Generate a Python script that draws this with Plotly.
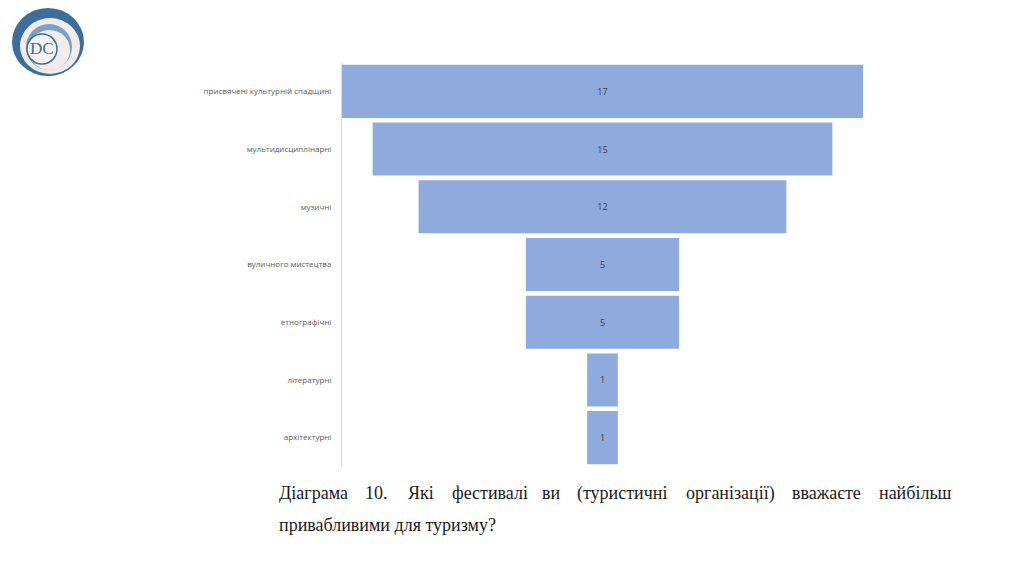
import plotly.graph_objects as go

categories = ["присвячені культурній спадщині", "мультидисциплінарні", "музичні",
              "вуличного мистецтва", "етнографічні", "літературні", "архітектурні"]
values = [17, 15, 12, 5, 5, 1, 1]

caption_line1 = ["Діаграма", "10.", "Які", "фестивалі", "ви", "(туристичні",
                 "організації)", "вважаєте", "найбільш"]
caption_line1_x = [277, 363, 406, 450, 540, 575, 684, 790, 877]
caption_line2 = "привабливими для туризму?"

W, H = 1024, 576
SERIF = "Liberation Serif"

fig = go.Figure(go.Funnel(
    y=categories,
    x=values,
    textinfo="value",
    textposition="inside",
    insidetextanchor="middle",
    textfont=dict(family="Open Sans", size=9, color="#404040"),
    marker=dict(color="#8faadc", line=dict(width=0)),
    connector=dict(visible=False),
    hoverinfo="skip",
))

fig.update_layout(
    width=W, height=H,
    margin=dict(l=0, r=0, t=0, b=0),
    paper_bgcolor="white", plot_bgcolor="white",
    showlegend=False,
    funnelgap=0.08,
    xaxis=dict(domain=[342 / W, 863 / W], range=[-8.5, 8.5], visible=False,
               fixedrange=True),
    yaxis=dict(domain=[1 - 466.5 / H, 1 - 62.5 / H], range=[6.5, -0.5],
               autorange=False,
               showline=True, linecolor="#d9d9d9", linewidth=1,
               showgrid=False, zeroline=False, ticks="",
               ticklabelstandoff=8,
               tickfont=dict(family="Open Sans", size=8, color="#595959")),
)

annotations = []
for word, x in zip(caption_line1, caption_line1_x):
    annotations.append(dict(text=word, x=x / W, y=1 - 493 / H, xref="paper", yref="paper",
                            xanchor="left", yanchor="middle", showarrow=False,
                            font=dict(family=SERIF, size=18, color="#1a1a1a")))
annotations.append(dict(text=caption_line2, x=277 / W, y=1 - 525 / H, xref="paper", yref="paper",
                        xanchor="left", yanchor="middle", showarrow=False,
                        font=dict(family=SERIF, size=18, color="#1a1a1a")))
# logo text
annotations.append(dict(text="DC", x=42 / W, y=1 - 49 / H, xref="paper", yref="paper",
                        xanchor="center", yanchor="middle", showarrow=False,
                        font=dict(family=SERIF, size=17, color="#3a6d9a")))
fig.update_layout(annotations=annotations)


def px(x0, y0, x1, y1):
    return dict(x0=x0 / W, x1=x1 / W, y0=1 - y0 / H, y1=1 - y1 / H)


shapes = [
    dict(type="circle", xref="paper", yref="paper", fillcolor="#3c6e9c", line=dict(width=0), layer="above",
         **px(12, 8, 84, 76)),
    dict(type="circle", xref="paper", yref="paper", fillcolor="#f1ebea", line=dict(width=0), layer="above",
         **px(20, 18, 80, 74)),
    dict(type="circle", xref="paper", yref="paper", fillcolor="#7aa0c4", line=dict(width=0), layer="above",
         **px(26, 24, 72, 70)),
    dict(type="circle", xref="paper", yref="paper", fillcolor="#f1ebea", line=dict(width=0), layer="above",
         **px(29, 30, 70, 70)),
    dict(type="circle", xref="paper", yref="paper", fillcolor="#f7f3f3", line=dict(color="#3c6e9c", width=1.5),
         layer="above", **px(27, 34, 57, 64)),
]
fig.update_layout(shapes=shapes)

fig.write_html("out.html")
